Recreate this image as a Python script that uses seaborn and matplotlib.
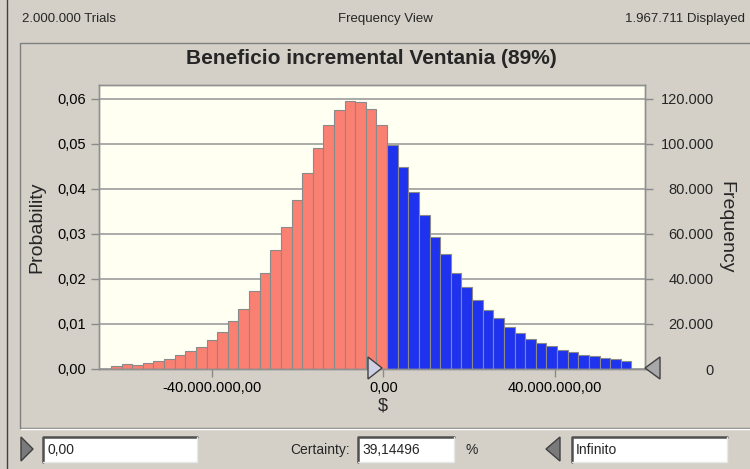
import numpy as np
import pandas as pd
import matplotlib
matplotlib.use("Agg")
import matplotlib.pyplot as plt
import matplotlib.ticker as mticker
from matplotlib.patches import Polygon, Rectangle
from matplotlib.lines import Line2D
import seaborn as sns

# Data
trials_label = "2.000.000 Trials"
view_label = "Frequency View"
displayed_label = "1.967.711 Displayed"
chart_title = "Beneficio incremental Ventania (89%)"

bin_start = -63.6e6        # left edge of first bin ($)
bin_width = 2.48e6         # bin width ($)
trials_scale = 2_000_000   # probability -> frequency

# probabilities per bin, below the certainty limit (salmon) and above it (blue)
prob_left = [0.0007, 0.0010, 0.0009, 0.0013, 0.0018, 0.0022, 0.0031, 0.0040,
             0.0049, 0.0064, 0.0082, 0.0107, 0.0134, 0.0173, 0.0213, 0.0264,
             0.0316, 0.0376, 0.0436, 0.0490, 0.0542, 0.0575, 0.0596, 0.0593,
             0.0578, 0.0542]
prob_right = [0.0497, 0.0448, 0.0393, 0.0343, 0.0294, 0.0256, 0.0213, 0.0182,
              0.0153, 0.0131, 0.0113, 0.0094, 0.0079, 0.0067, 0.0058, 0.0050,
              0.0043, 0.0037, 0.0031, 0.0028, 0.0025, 0.0022, 0.0018]

x_ticks = [-40e6, 0, 40e6]
prob_ticks = [0.00, 0.01, 0.02, 0.03, 0.04, 0.05, 0.06]
freq_ticks = [0, 20000, 40000, 60000, 80000, 100000, 120000]

lower_value = "0,00"
certainty_value = "39,14496"
upper_value = "Infinito"

# Style
WIN_BG = "#d4d0c8"
PLOT_BG = "#fffff2"
SALMON = "#fa8072"
BLUE = "#1f33ee"
EDGE = "#8a8a8a"
GRID = "#9c9c9c"
DARK = "#404040"

sns.set_style("white")
plt.rcParams["font.family"] = ["Liberation Sans", "DejaVu Sans"]
plt.rcParams["axes.linewidth"] = 1.0

W, H = 750, 469
fig = plt.figure(figsize=(W / 100, H / 100), dpi=100, facecolor=WIN_BG)


def fx(x):
    return x / W


def fy(y):
    return 1 - y / H


def pts(coords):
    return [(fx(x), fy(y)) for x, y in coords]


# axes in pixel box (99..645, 85..369)
ax = fig.add_axes([fx(99), fy(369), fx(645) - fx(99), fy(85) - fy(369)])
ax.set_facecolor(PLOT_BG)

n_left = len(prob_left)
n_all = n_left + len(prob_right)
edges = bin_start + bin_width * np.arange(n_all + 1)
centers = (edges[:-1] + edges[1:]) / 2

df_left = pd.DataFrame({"value": centers[:n_left], "prob": prob_left})
df_right = pd.DataFrame({"value": centers[n_left:], "prob": prob_right})

sns.histplot(data=df_left, x="value", weights="prob",
             bins=edges[:n_left + 1].tolist(),
             color=SALMON, edgecolor=EDGE, linewidth=0.8, alpha=1, ax=ax)
sns.histplot(data=df_right, x="value", weights="prob",
             bins=edges[n_left:].tolist(),
             color=BLUE, edgecolor=EDGE, linewidth=0.8, alpha=1, ax=ax)

ax.set_xlim(-66.4e6, 61.1e6)
ax.set_ylim(0, 0.0631)
ax.set_axisbelow(True)
ax.yaxis.grid(True, color=GRID, linewidth=1.2)
ax.xaxis.grid(False)
ax.set_xlabel("")
ax.set_ylabel("")

ax.set_xticks(x_ticks)
ax.xaxis.set_major_formatter(mticker.FuncFormatter(
    lambda v, p: f"{v:,.2f}".replace(",", "X").replace(".", ",").replace("X", ".")))
ax.set_yticks(prob_ticks)
ax.yaxis.set_major_formatter(mticker.FuncFormatter(
    lambda v, p: f"{v:.2f}".replace(".", ",")))
ax.tick_params(axis="both", which="major", direction="out", length=5.5,
               width=1, color=EDGE, labelsize=10.5, labelcolor="black",
               left=True, bottom=True)
ax.tick_params(axis="x", pad=3.5)
ax.tick_params(axis="y", pad=4)
for s in ax.spines.values():
    s.set_color("#909090")
    s.set_linewidth(1.0)

ax2 = ax.twinx()
ax2.set_ylim(0, 0.0631 * trials_scale)
ax2.set_yticks(freq_ticks)
ax2.yaxis.set_major_formatter(mticker.FuncFormatter(
    lambda v, p: f"{int(round(v)):,}".replace(",", ".")))
ax2.tick_params(axis="y", direction="out", length=5.5, width=1, color=EDGE,
                labelsize=10.5, pad=44, right=True)
for lab in ax2.get_yticklabels():
    lab.set_horizontalalignment("right")
ax2.grid(False)
for s in ax2.spines.values():
    s.set_color("#909090")

# Window chrome
fig.add_artist(Line2D([fx(7), fx(7)], [fy(0), fy(469)], color=DARK, lw=1))
fig.add_artist(Line2D([fx(20), fx(20), fx(750)], [fy(428), fy(43), fy(43)],
                      color="#808080", lw=1))
fig.add_artist(Line2D([fx(20), fx(750)], [fy(428), fy(428)], color="#808080", lw=1))
fig.add_artist(Line2D([fx(21), fx(750)], [fy(429), fy(429)], color="white", lw=1))

fig.text(fx(22), fy(19), trials_label, ha="left", va="center", fontsize=9.5)
fig.text(fx(385), fy(19), view_label, ha="center", va="center", fontsize=9.5)
fig.text(fx(745), fy(19), displayed_label, ha="right", va="center", fontsize=9.5)
fig.text(fx(371), fy(58), chart_title, ha="center", va="center",
         fontsize=15, fontweight="bold")
fig.text(fx(37), fy(227), "Probability", ha="center", va="center",
         rotation=90, fontsize=14)
fig.text(fx(726), fy(227), "Frequency", ha="center", va="center",
         rotation=-90, fontsize=14)
fig.text(fx(383), fy(406), "$", ha="center", va="center", fontsize=13)

# Slider triangles on the axis
fig.add_artist(Polygon(pts([(368, 357), (382, 368), (368, 379)]), closed=True,
                       facecolor="#cfd0e6", edgecolor=DARK, lw=1, zorder=10))
fig.add_artist(Polygon(pts([(660, 357), (645, 368), (660, 379)]), closed=True,
                       facecolor="#a8a8a8", edgecolor=DARK, lw=1, zorder=10))

# Bottom controls
fig.add_artist(Polygon(pts([(21, 437), (33, 449), (21, 461)]), closed=True,
                       facecolor="#7a7a7a", edgecolor=DARK, lw=1))
fig.add_artist(Polygon(pts([(560, 437), (546, 449), (560, 461)]), closed=True,
                       facecolor="#7a7a7a", edgecolor=DARK, lw=1))


def text_box(x0, x1, label):
    y0, y1 = 437, 462
    fig.add_artist(Rectangle((fx(x0), fy(y1)), fx(x1) - fx(x0), fy(y0) - fy(y1),
                             facecolor="white", edgecolor="none"))
    fig.add_artist(Line2D([fx(x0), fx(x0), fx(x1)], [fy(y1), fy(y0), fy(y0)],
                          color="#505050", lw=1.8))
    fig.add_artist(Line2D([fx(x0), fx(x1), fx(x1)], [fy(y1), fy(y1), fy(y0)],
                          color="#e8e8e8", lw=1))
    fig.text(fx(x0 + 4), fy(450), label, ha="left", va="center", fontsize=10)


text_box(43, 197, lower_value)
text_box(358, 454, certainty_value)
text_box(572, 727, upper_value)
fig.text(fx(350), fy(450), "Certainty:", ha="right", va="center", fontsize=10)
fig.text(fx(466), fy(450), "%", ha="left", va="center", fontsize=10)

fig.savefig("out.png", dpi=100, facecolor=fig.get_facecolor())
